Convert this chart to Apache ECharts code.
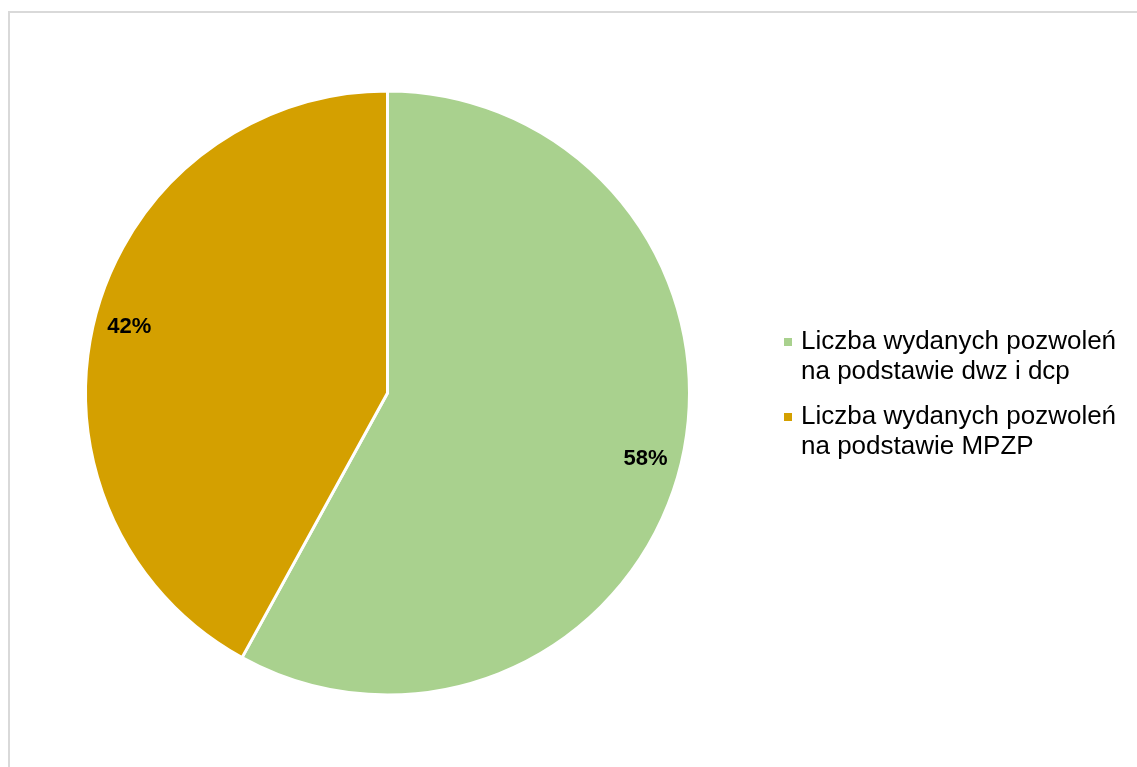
<!DOCTYPE html>
<html>
<head>
<meta charset="utf-8">
<script src="https://cdn.jsdelivr.net/npm/echarts@6/dist/echarts.min.js"></script>
<style>
  html, body { margin: 0; padding: 0; background: #ffffff; }
  #chart { width: 1137px; height: 767px; }
</style>
</head>
<body>
<div id="chart"></div>
<script>
// Share of building permits by planning basis
const categories = [
  'Liczba wydanych pozwoleń\nna podstawie dwz i dcp',
  'Liczba wydanych pozwoleń\nna podstawie MPZP'
];
const shares = [58, 42];
const colors = ['#A9D18E', '#D4A000'];

const FONT = '"Liberation Sans", Arial, sans-serif';
const CENTER = [387.5, 393];
const R = 302;

const pieData = categories.map((name, i) => ({
  name: name,
  value: shares[i],
  itemStyle: { color: colors[i] }
}));

const chart = echarts.init(document.getElementById('chart'), null, { renderer: 'canvas' });

chart.setOption({
  animation: false,
  backgroundColor: '#ffffff',
  graphic: [{
    type: 'rect',
    shape: { x: 9, y: 12, width: 1400, height: 1000 },
    style: { fill: 'none', stroke: '#d9d9d9', lineWidth: 2 },
    silent: true,
    z: -10
  }],
  legend: {
    orient: 'vertical',
    left: 782,
    top: 297,
    padding: 0,
    itemWidth: 10,
    itemHeight: 10,
    itemGap: -15,
    icon: 'rect',
    // a leading empty line keeps the marker level with the first text line
    formatter: name => '\n' + name,
    textStyle: {
      fontFamily: FONT,
      fontSize: 26,
      lineHeight: 30,
      color: '#000000',
      padding: [0, 0, 0, 3]
    },
    data: categories
  },
  series: [
    {
      // the pie itself
      type: 'pie',
      center: CENTER,
      radius: [0, R],
      startAngle: 90,
      clockwise: true,
      silent: true,
      itemStyle: { borderColor: '#ffffff', borderWidth: 3 },
      label: { show: false },
      labelLine: { show: false },
      data: pieData
    },
    {
      // percentage labels placed near the outer rim
      type: 'pie',
      center: CENTER,
      radius: [225, R],
      startAngle: 90,
      clockwise: true,
      silent: true,
      legendHoverLink: false,
      itemStyle: { color: 'rgba(0,0,0,0)', borderWidth: 0 },
      label: {
        show: true,
        position: 'inside',
        formatter: '{d}%',
        fontFamily: FONT,
        fontSize: 22,
        fontWeight: 'bold',
        color: '#000000'
      },
      labelLine: { show: false },
      data: categories.map((name, i) => ({ name: name, value: shares[i] }))
    }
  ]
});
</script>
</body>
</html>
